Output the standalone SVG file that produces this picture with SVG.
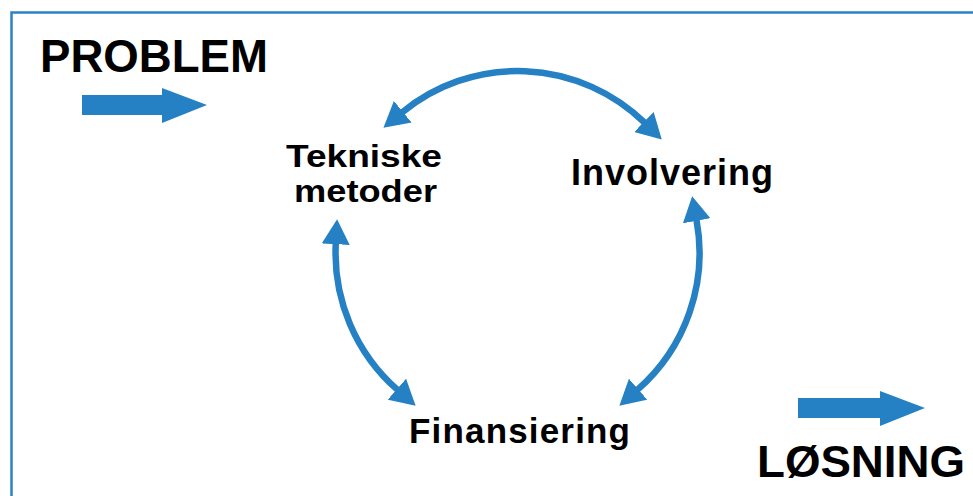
<svg xmlns="http://www.w3.org/2000/svg" width="973" height="496" viewBox="0 0 973 496">
  <style>
    .lbl { font-family: "Liberation Sans", Arial, sans-serif; font-weight: bold; fill: #000; }
    .arc { fill: none; stroke: #2581c4; stroke-width: 6.5; }
    .block { fill: #2581c4; }
  </style>
  <defs>
    <marker id="head" markerUnits="userSpaceOnUse" viewBox="0 -14 25 28" markerWidth="25" markerHeight="28" refX="1" refY="0" orient="auto-start-reverse">
      <path d="M0,-14 L25,0 L0,14 z" fill="#2581c4"/>
    </marker>
  </defs>
  <rect width="973" height="496" fill="#fff"/>
  <rect id="frame" x="11.5" y="12.5" width="1000" height="520" fill="none" stroke="#2b83c6" stroke-width="2.5"/>

  <g id="problem">
    <text class="lbl" x="40" y="72" font-size="46" textLength="228" lengthAdjust="spacingAndGlyphs">PROBLEM</text>
    <polygon class="block" points="82,95 162,95 162,88 207,105 162,123 162,115 82,115"/>
  </g>
  <g id="losning">
    <polygon class="block" points="798,398 880,398 880,391 925,408 880,426 880,418 798,418"/>
    <text class="lbl" x="757" y="477" font-size="44" textLength="208" lengthAdjust="spacingAndGlyphs">LØSNING</text>
  </g>
  <g id="tekniske">
    <text class="lbl" x="286" y="167" font-size="32" textLength="156" lengthAdjust="spacingAndGlyphs">Tekniske</text>
    <text class="lbl" x="294" y="202" font-size="32" textLength="143" lengthAdjust="spacingAndGlyphs">metoder</text>
  </g>
  <g id="involvering">
    <text class="lbl" x="571" y="185" font-size="36" textLength="202" lengthAdjust="spacing">Involvering</text>
  </g>
  <g id="finansiering">
    <text class="lbl" x="409" y="443" font-size="35" textLength="221" lengthAdjust="spacing">Finansiering</text>
  </g>

  <g id="connectors">
    <path class="arc" d="M402,112.4 A182,182 0 0 1 644.6,122.7" marker-start="url(#head)" marker-end="url(#head)"/>
    <path class="arc" d="M335.8,243.2 A182,182 0 0 0 397.6,389.9" marker-start="url(#head)" marker-end="url(#head)"/>
    <path class="arc" d="M696.5,219.8 A182,182 0 0 1 637.4,389.9" marker-start="url(#head)" marker-end="url(#head)"/>
  </g>
</svg>
